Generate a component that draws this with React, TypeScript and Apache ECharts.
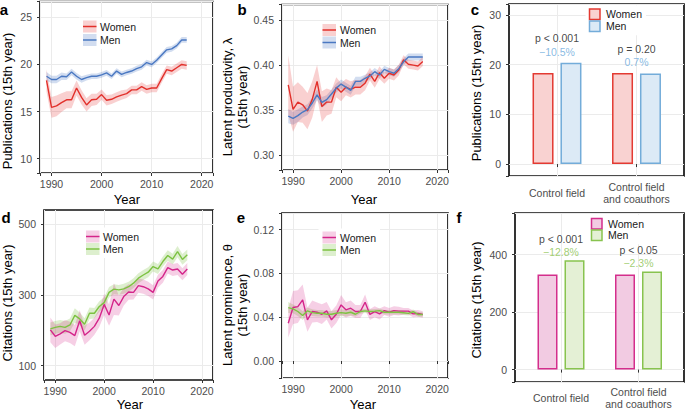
import React, { useEffect, useRef } from 'react';
import * as echarts from 'echarts';

// ---------- data ----------
const years = [1989, 1990, 1991, 1992, 1993, 1994, 1995, 1996, 1997, 1998, 1999, 2000, 2001, 2002, 2003, 2004, 2005, 2006, 2007, 2008, 2009, 2010, 2011, 2012, 2013, 2014, 2015, 2016, 2017];

// a: publications (15th year)
const pubWomen = [18.3, 15.45, 15.6, 15.95, 16.25, 16.25, 17.5, 16.5, 15.7, 16.25, 16.3, 16.8, 16.2, 16.3, 16.55, 16.75, 16.9, 17.3, 17.3, 17.65, 17.35, 17.5, 17.5, 18.5, 19.45, 19.3, 19.65, 20.0, 19.9];
const pubWomenCI = [1.2, 1.1, 1.1, 1.0, 0.9, 0.9, 0.8, 0.75, 0.7, 0.65, 0.6, 0.55, 0.55, 0.5, 0.5, 0.5, 0.45, 0.45, 0.45, 0.45, 0.45, 0.45, 0.45, 0.45, 0.45, 0.45, 0.45, 0.45, 0.45];
const pubMen = [18.75, 18.4, 18.4, 18.75, 18.7, 19.2, 18.75, 18.4, 18.6, 18.75, 18.75, 18.9, 19.1, 18.75, 19.3, 18.95, 19.15, 19.3, 19.55, 19.75, 20.2, 20.0, 20.45, 21.0, 21.55, 21.65, 22.0, 22.6, 22.6];
const pubMenCI = [0.45, 0.4, 0.4, 0.4, 0.35, 0.35, 0.35, 0.35, 0.3, 0.3, 0.3, 0.3, 0.3, 0.3, 0.3, 0.3, 0.3, 0.3, 0.3, 0.3, 0.3, 0.3, 0.3, 0.3, 0.3, 0.3, 0.3, 0.3, 0.3];

// b: latent productivity
const lamWomen = [0.378, 0.351, 0.359, 0.356, 0.349, 0.362, 0.382, 0.354, 0.359, 0.359, 0.3755, 0.37, 0.3755, 0.373, 0.3755, 0.3755, 0.38, 0.39, 0.382, 0.3916, 0.3854, 0.391, 0.389, 0.3945, 0.406, 0.401, 0.4, 0.399, 0.404];
const lamWomenCI = [0.033, 0.025, 0.022, 0.02, 0.02, 0.02, 0.018, 0.017, 0.015, 0.013, 0.011, 0.01, 0.009, 0.009, 0.008, 0.008, 0.008, 0.007, 0.007, 0.007, 0.006, 0.006, 0.006, 0.006, 0.005, 0.005, 0.005, 0.005, 0.005];
const lamMen = [0.3434, 0.341, 0.344, 0.348, 0.3507, 0.358, 0.367, 0.3587, 0.3617, 0.368, 0.3745, 0.379, 0.3755, 0.372, 0.382, 0.382, 0.3854, 0.388, 0.3927, 0.389, 0.3953, 0.3927, 0.391, 0.396, 0.4036, 0.409, 0.409, 0.409, 0.409];
const lamMenCI = [0.008, 0.007, 0.007, 0.006, 0.006, 0.006, 0.006, 0.006, 0.005, 0.005, 0.005, 0.005, 0.005, 0.005, 0.005, 0.005, 0.004, 0.004, 0.004, 0.004, 0.004, 0.004, 0.004, 0.004, 0.004, 0.004, 0.004, 0.004, 0.004];

// d: citations (15th year)
const citWomen = [201, 183, 190, 199, 194, 185, 227, 186, 197, 211, 234, 273, 243, 288, 270, 295, 308, 307, 326, 323, 317, 307, 339, 352, 377, 370, 373, 358, 373];
const citWomenCI = [35, 33, 30, 30, 30, 30, 30, 27, 25, 24, 25, 30, 30, 45, 28, 25, 22, 20, 20, 20, 20, 20, 18, 18, 17, 17, 17, 17, 17];
const citMen = [204, 208, 211, 208, 215, 242, 232, 217, 248, 248, 267, 278, 307, 316, 314, 317, 323, 333, 347, 356, 364, 380, 373, 394, 411, 401, 422, 400, 413];
const citMenCI = [18, 18, 18, 18, 18, 20, 18, 17, 16, 15, 15, 15, 15, 14, 14, 14, 14, 14, 14, 14, 14, 14, 14, 14, 15, 15, 16, 15, 15];
const citTicks = [100, 300, 500];

// e: latent prominence
const thWomen = [0.0345, 0.0488, 0.0497, 0.0558, 0.0376, 0.0452, 0.0445, 0.0427, 0.0458, 0.0376, 0.0427, 0.0512, 0.0467, 0.0482, 0.0452, 0.0452, 0.0536, 0.0425, 0.045, 0.043, 0.046, 0.0445, 0.046, 0.0455, 0.0455, 0.0455, 0.043, 0.0435, 0.0425];
const thWomenCI = [0.013, 0.015, 0.015, 0.014, 0.011, 0.01, 0.009, 0.009, 0.008, 0.008, 0.008, 0.009, 0.007, 0.007, 0.006, 0.006, 0.007, 0.005, 0.005, 0.005, 0.004, 0.004, 0.004, 0.004, 0.003, 0.003, 0.003, 0.003, 0.003];
const thMen = [0.0488, 0.0476, 0.0452, 0.0415, 0.0458, 0.0442, 0.0436, 0.0436, 0.0427, 0.0427, 0.0436, 0.0442, 0.0436, 0.0445, 0.0427, 0.0452, 0.0458, 0.0452, 0.0455, 0.046, 0.0445, 0.0445, 0.0445, 0.0445, 0.044, 0.0435, 0.045, 0.0425, 0.0425];
const thMenCI = [0.005, 0.004, 0.004, 0.004, 0.003, 0.003, 0.003, 0.003, 0.003, 0.003, 0.003, 0.003, 0.003, 0.003, 0.002, 0.002, 0.002, 0.002, 0.002, 0.002, 0.002, 0.002, 0.002, 0.002, 0.002, 0.002, 0.002, 0.002, 0.002];

// c, f: bars
const barCategories = ['Control field', 'Control field\nand coauthors'];
const pubBarWomen = [18.3, 18.3];
const pubBarMen = [20.4, 18.2];
const pubPValues = ['p < 0.001', 'p = 0.20'];
const pubGaps = ['\u221210.5%', '0.7%'];
const citBarWomen = [331, 331];
const citBarMen = [380, 341];
const citPValues = ['p < 0.001', 'p < 0.05'];
const citGaps = ['\u221212.8%', '\u22122.3%'];

// ---------- styles ----------
const FONT = '"Liberation Sans", Arial, Helvetica, sans-serif';
const RED = '#e2302b', RED_BAND = 'rgba(228, 40, 40, 0.22)';
const BLUE = '#4a78c2', BLUE_BAND = 'rgba(74, 120, 194, 0.25)';
const PINK = '#d4258a', PINK_BAND = 'rgba(212, 37, 138, 0.22)';
const GREEN = '#7dc242', GREEN_BAND = 'rgba(125, 194, 66, 0.26)';
const TICK_FS = 10.5, TITLE_FS = 13, LEG_FS = 10.5;
const X_MIN = 1987.7, X_MAX = 2022.25;

const isMult = (v: number, step: number) => Math.abs(v / step - Math.round(v / step)) < 1e-6;

let measureCtx: CanvasRenderingContext2D | null = null;
function textWidth(text: string, size: number) {
  if (!measureCtx) measureCtx = document.createElement('canvas').getContext('2d');
  if (!measureCtx) return text.length * size * 0.55;
  measureCtx.font = `${size}px ${FONT}`;
  return measureCtx.measureText(text).width;
}

function frameGrid(left: number, top: number, width: number, height: number) {
  return { left, top, width, height, show: true, borderColor: '#111', borderWidth: 1.7, backgroundColor: 'transparent' };
}

function valueAxis(gridIndex: number, min: number, max: number, step: number, decimals: number, margin: number) {
  return {
    type: 'value', gridIndex, min, max, minInterval: step, maxInterval: step,
    axisLine: { show: false },
    axisTick: { show: true, length: 3, lineStyle: { color: '#333', width: 1 } },
    axisLabel: {
      color: '#4d4d4d', fontSize: TICK_FS, fontFamily: FONT, margin,
      formatter: (v: number) => (isMult(v, step) ? v.toFixed(decimals) : ''),
    },
    splitLine: { show: true, lineStyle: { color: '#ebebeb', width: 1 } },
  };
}

function customTickAxis(gridIndex: number, min: number, max: number, ticks: number[], margin: number) {
  return {
    type: 'value', gridIndex, min, max,
    axisLine: { show: false },
    axisTick: { show: true, length: 3, customValues: ticks, lineStyle: { color: '#333', width: 1 } },
    axisLabel: { color: '#4d4d4d', fontSize: TICK_FS, fontFamily: FONT, margin, customValues: ticks, formatter: (v: number) => String(v) },
    splitLine: { show: true, customValues: ticks, lineStyle: { color: '#ebebeb', width: 1 } },
  };
}

function bandSeries(gi: number, mean: number[], hw: number[], color: string) {
  const lo = mean.map((m, i) => m - hw[i]);
  const hi = mean.map((m, i) => m + hw[i]);
  return {
    type: 'custom', xAxisIndex: gi, yAxisIndex: gi, silent: true, z: 1,
    data: years.map((y, i) => [y, lo[i], hi[i]]),
    encode: { x: 0, y: [1, 2] },
    renderItem: (params: any, api: any) => {
      if (params.dataIndex !== 0) return null;
      const pts: number[][] = [];
      for (let i = 0; i < years.length; i++) pts.push(api.coord([years[i], hi[i]]));
      for (let i = years.length - 1; i >= 0; i--) pts.push(api.coord([years[i], lo[i]]));
      return { type: 'polygon', shape: { points: pts }, style: { fill: color } };
    },
  };
}

function lineSeries(gi: number, name: string, vals: number[], color: string) {
  return {
    type: 'line', name, xAxisIndex: gi, yAxisIndex: gi, silent: true, z: 3,
    data: years.map((y, i) => [y, vals[i]]),
    showSymbol: false, symbol: 'none',
    lineStyle: { color, width: 1.4 },
    itemStyle: { color },
  };
}

function barSeries(gi: number, name: string, vals: number[], fill: string, border: string, width: number, gap: string) {
  return {
    type: 'bar', name, xAxisIndex: gi, yAxisIndex: gi, silent: true,
    data: vals, barWidth: width, barGap: gap,
    itemStyle: { color: fill, borderColor: border, borderWidth: 1.5 },
  };
}

function annotSeries(gi: number, women: number[], men: number[], pv: string[], gaps: string[], color: string, distance: number) {
  return {
    type: 'scatter', xAxisIndex: gi, yAxisIndex: gi, silent: true, z: 5,
    symbolSize: 0.1, itemStyle: { color: 'transparent' },
    data: women.map((w, i) => [i, Math.max(w, men[i])]),
    label: {
      show: true, position: 'top', distance,
      formatter: (p: any) => `{p|${pv[p.dataIndex]}}\n{d|${gaps[p.dataIndex]}}`,
      rich: {
        p: { color: '#111', fontSize: 10.5, fontFamily: FONT, lineHeight: 13.5, align: 'center' },
        d: { color, fontSize: 10.5, fontFamily: FONT, lineHeight: 13.5, align: 'center' },
      },
    },
  };
}

function txt(x: number, y: number, text: string, opts: any = {}) {
  return {
    type: 'text', x, y, z: opts.z || 10, rotation: opts.rotation || 0, silent: true,
    style: {
      text, fontSize: opts.fontSize || TITLE_FS, fontFamily: FONT, fontWeight: opts.fontWeight || 'normal',
      fill: opts.fill || '#000', align: 'center', verticalAlign: 'middle',
      lineHeight: opts.lineHeight || 15,
    },
  };
}

function leftTxt(x: number, y: number, text: string) {
  return txt(x + textWidth(text, LEG_FS) / 2, y, text, { fontSize: LEG_FS, fill: '#1a1a1a', z: 52 });
}

// white legend box that hides the grid lines behind it
function legendBg(x: number, yW: number, yM: number, tx: number) {
  const right = tx + textWidth('Women', LEG_FS) + 4;
  return { type: 'rect', silent: true, z: 50, shape: { x: x - 4, y: yW - 9, width: right - (x - 4), height: yM - yW + 18 }, style: { fill: '#fff' } };
}

function lineLegend(x: number, yW: number, yM: number, tx: number, wl: string, wb: string, ml: string, mb: string) {
  const w = 13.5, h = 12;
  const key = (y: number, line: string, band: string) => [
    { type: 'rect', silent: true, z: 51, shape: { x, y: y - h / 2, width: w, height: h }, style: { fill: band } },
    { type: 'line', silent: true, z: 52, shape: { x1: x, y1: y, x2: x + w, y2: y }, style: { stroke: line, lineWidth: 1.5 } },
  ];
  return [legendBg(x, yW, yM, tx), ...key(yW, wl, wb), ...key(yM, ml, mb), leftTxt(tx, yW, 'Women'), leftTxt(tx, yM, 'Men')];
}

function barLegend(x: number, yW: number, yM: number, tx: number, wf: string, wb: string, mf: string, mb: string) {
  const s = 10.5;
  const key = (y: number, f: string, b: string) => ({ type: 'rect', silent: true, z: 51, shape: { x, y: y - s / 2, width: s, height: s }, style: { fill: f, stroke: b, lineWidth: 1.5 } });
  return [legendBg(x, yW, yM, tx), key(yW, wf, wb), key(yM, mf, mb), leftTxt(tx, yW, 'Women'), leftTxt(tx, yM, 'Men')];
}

function yearAxis(gi: number) {
  const ax: any = valueAxis(gi, X_MIN, X_MAX, 10, 0, 5);
  ax.axisLabel.formatter = (v: number) => (isMult(v, 10) ? String(v) : '');
  return ax;
}

function catAxis(gi: number, margin: number) {
  return {
    type: 'category', gridIndex: gi, data: barCategories, boundaryGap: false,
    axisLine: { show: false },
    axisTick: { show: true, length: 3, lineStyle: { color: '#333', width: 1 } },
    axisLabel: { interval: 0, color: '#4d4d4d', fontSize: TICK_FS, fontFamily: FONT, margin, verticalAlign: 'middle', lineHeight: 12 },
    splitLine: { show: true, interval: 0, lineStyle: { color: '#ebebeb', width: 1 } },
  };
}

function hiddenX(gi: number) {
  return { type: 'value', gridIndex: gi, min: 0, max: 1, show: false, splitLine: { show: false } };
}

function hiddenY(gi: number, min: number, max: number) {
  return { type: 'value', gridIndex: gi, min, max, show: false, splitLine: { show: false } };
}

function buildOption(): any {
  return {
    animation: false,
    textStyle: { fontFamily: FONT },
    grid: [
      frameGrid(40, 1.5, 173, 171.5),
      frameGrid(282, 4.5, 166, 165.5),
      frameGrid(509, 4, 175, 172),
      { left: 557, top: 4, width: 79.5, height: 172, show: false },
      frameGrid(44, 210, 169, 170),
      frameGrid(282, 213, 166, 165),
      frameGrid(515, 213, 169, 169),
      { left: 561, top: 213, width: 77.5, height: 169, show: false },
    ],
    xAxis: [
      yearAxis(0), yearAxis(1), hiddenX(2), catAxis(3, 17), yearAxis(4), yearAxis(5), hiddenX(6), catAxis(7, 15.5),
    ],
    yAxis: [
      valueAxis(0, 8.48, 26.68, 5, 0, 8),
      valueAxis(1, 0.2837, 0.4672, 0.05, 2, 8),
      valueAxis(2, -2.4, 32.2, 10, 0, 8),
      hiddenY(3, -2.4, 32.2),
      customTickAxis(4, 59.6, 539.5, citTicks, 8),
      valueAxis(5, -0.0155, 0.1351, 0.04, 2, 8),
      valueAxis(6, -43.1, 544.7, 200, 0, 8),
      hiddenY(7, -43.1, 544.7),
    ],
    series: [
      bandSeries(0, pubWomen, pubWomenCI, RED_BAND),
      bandSeries(0, pubMen, pubMenCI, BLUE_BAND),
      lineSeries(0, 'Women', pubWomen, RED),
      lineSeries(0, 'Men', pubMen, BLUE),

      bandSeries(1, lamMen, lamMenCI, BLUE_BAND),
      bandSeries(1, lamWomen, lamWomenCI, RED_BAND),
      lineSeries(1, 'Women', lamWomen, RED),
      lineSeries(1, 'Men', lamMen, BLUE),

      barSeries(3, 'Women', pubBarWomen, '#f9d2d1', '#e33a32', 21, '33%'),
      barSeries(3, 'Men', pubBarMen, '#dceaf6', '#73acd9', 21, '33%'),
      annotSeries(3, pubBarWomen, pubBarMen, pubPValues, pubGaps, '#6aa9db', 4),

      bandSeries(4, citMen, citMenCI, GREEN_BAND),
      bandSeries(4, citWomen, citWomenCI, PINK_BAND),
      lineSeries(4, 'Women', citWomen, PINK),
      lineSeries(4, 'Men', citMen, GREEN),

      bandSeries(5, thMen, thMenCI, GREEN_BAND),
      bandSeries(5, thWomen, thWomenCI, PINK_BAND),
      lineSeries(5, 'Women', thWomen, PINK),
      lineSeries(5, 'Men', thMen, GREEN),

      barSeries(7, 'Women', citBarWomen, '#f2cbe2', '#d42e8c', 20, '35%'),
      barSeries(7, 'Men', citBarMen, '#e4f0d5', '#88c34f', 20, '35%'),
      annotSeries(7, citBarWomen, citBarMen, citPValues, citGaps, '#89c24e', 1.5),
    ],
    graphic: [
      txt(4, 9, 'a', { fontSize: 15, fontWeight: 'bold' }),
      txt(242, 9, 'b', { fontSize: 15, fontWeight: 'bold' }),
      txt(475, 9, 'c', { fontSize: 15, fontWeight: 'bold' }),
      txt(6, 217, 'd', { fontSize: 15, fontWeight: 'bold' }),
      txt(241, 217, 'e', { fontSize: 15, fontWeight: 'bold' }),
      txt(459, 217, 'f', { fontSize: 15, fontWeight: 'bold' }),
      txt(7, 101, 'Publications (15th year)', { rotation: Math.PI / 2 }),
      txt(235, 97, 'Latent productivity, \u03bb\n(15th year)', { rotation: Math.PI / 2 }),
      txt(476, 93, 'Publications (15th year)', { rotation: Math.PI / 2 }),
      txt(7, 303, 'Citations (15th year)', { rotation: Math.PI / 2 }),
      txt(235, 305, 'Latent prominence, \u03b8\n(15th year)', { rotation: Math.PI / 2 }),
      txt(476, 300, 'Citations (15th year)', { rotation: Math.PI / 2 }),
      txt(127, 199, 'Year'),
      txt(364, 199, 'Year'),
      txt(130, 404, 'Year'),
      txt(363, 404, 'Year'),
      ...lineLegend(83, 26.5, 40, 100, RED, RED_BAND, BLUE, BLUE_BAND),
      ...lineLegend(322.5, 30, 42.5, 340, RED, RED_BAND, BLUE, BLUE_BAND),
      ...barLegend(589.5, 14.2, 26.2, 606, '#f9d2d1', '#e33a32', '#dceaf6', '#73acd9'),
      ...lineLegend(86, 236.5, 249, 103, PINK, PINK_BAND, GREEN, GREEN_BAND),
      ...lineLegend(322.5, 237.5, 250, 340, PINK, PINK_BAND, GREEN, GREEN_BAND),
      ...barLegend(591.5, 223.8, 235.3, 608, '#f2cbe2', '#d42e8c', '#e4f0d5', '#88c34f'),
    ],
  };
}

export default function App() {
  const ref = useRef<HTMLDivElement>(null);
  useEffect(() => {
    document.body.style.margin = '0';
    const chart = echarts.init(ref.current as HTMLDivElement, null, { renderer: 'svg', width: 685, height: 410 });
    chart.setOption(buildOption());
    return () => chart.dispose();
  }, []);
  return <div ref={ref} style={{ width: 685, height: 410, position: 'absolute', left: 0, top: 0, background: '#fff' }} />;
}
